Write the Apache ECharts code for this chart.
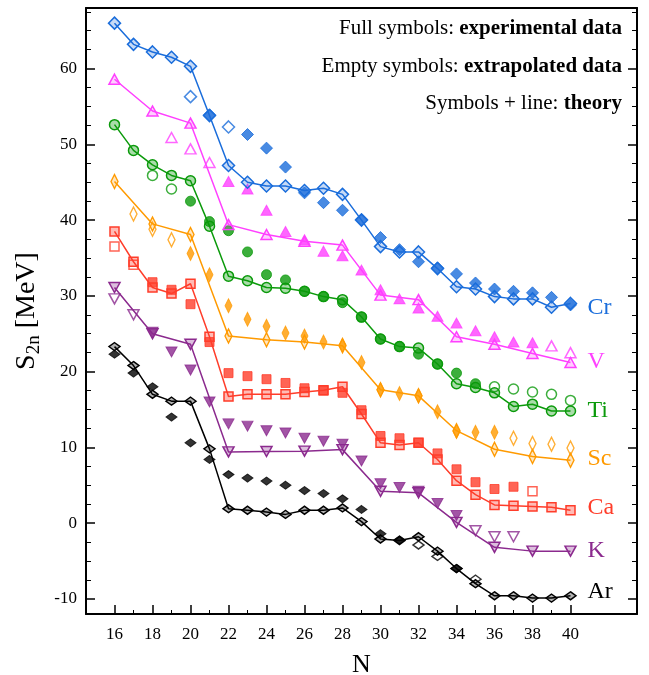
<!DOCTYPE html>
<html>
<head>
<meta charset="utf-8">
<script src="https://cdn.jsdelivr.net/npm/echarts@6/dist/echarts.min.js"></script>
<style>
  html, body { margin: 0; padding: 0; background: #fff; }
  #chart { width: 649px; height: 675px; }
</style>
</head>
<body>
<div id="chart"></div>
<script>
// Two-neutron separation energies S2n (MeV) versus neutron number N.
// Each isotopic chain: theory (symbols + line), experimental (full), extrapolated (empty).

const crTheory = [[16,66.0],[17,63.2],[18,62.2],[19,61.5],[20,60.3],[21,53.8],[22,47.2],[23,45.0],[24,44.5],[25,44.5],[26,43.9],[27,44.2],[28,43.4],[29,40.0],[30,36.5],[31,35.8],[32,35.8],[33,33.6],[34,31.2],[35,30.9],[36,29.9],[37,29.6],[38,29.6],[39,28.5],[40,29.0]];
const crExp = [[21,53.9],[23,51.3],[24,49.5],[25,47.0],[26,43.6],[27,42.3],[28,41.3],[29,40.1],[30,37.7],[31,36.1],[32,34.5],[33,33.7],[34,32.9],[35,31.7],[36,30.9],[37,30.6],[38,30.4],[39,29.8],[40,28.8]];
const crExtrap = [[20,56.3],[22,52.3]];

const vTheory = [[16,58.6],[18,54.4],[20,52.8],[22,39.4],[24,38.1],[26,37.2],[28,36.7],[30,30.1],[32,29.5],[34,24.6],[36,23.6],[38,22.4],[40,21.2]];
const vExp = [[22,45.1],[23,44.1],[24,41.3],[25,38.5],[26,37.4],[27,35.9],[28,35.3],[29,33.4],[30,30.8],[31,29.6],[32,28.4],[33,27.3],[34,26.4],[35,25.4],[36,24.6],[37,23.9],[38,23.8]];
const vExtrap = [[19,50.9],[20,49.4],[21,47.6],[39,23.4],[40,22.5]];

const tiTheory = [[16,52.6],[17,49.2],[18,47.3],[19,45.9],[20,45.2],[21,39.2],[22,32.6],[23,32.0],[24,31.1],[25,31.0],[26,30.6],[27,29.9],[28,29.5],[29,27.2],[30,24.3],[31,23.3],[32,23.1],[33,21.0],[34,18.4],[35,17.9],[36,17.2],[37,15.4],[38,15.7],[39,14.8],[40,14.8]];
const tiExp = [[20,42.5],[21,39.8],[22,38.6],[23,35.8],[24,32.8],[25,32.1],[26,30.6],[27,29.9],[28,29.1],[29,27.2],[30,24.3],[31,23.3],[32,22.3],[33,21.0],[34,19.8],[35,18.4]];
const tiExtrap = [[18,45.9],[19,44.1],[36,18.0],[37,17.7],[38,17.3],[39,17.0],[40,16.2]];

const scTheory = [[16,45.1],[18,39.5],[20,38.1],[22,24.7],[24,24.2],[26,23.9],[28,23.4],[30,17.6],[32,16.8],[34,12.2],[36,9.75],[38,8.8],[40,8.3]];
const scExp = [[20,35.6],[21,32.8],[22,28.7],[23,26.9],[24,26.0],[25,25.1],[26,24.7],[27,23.9],[28,23.5],[29,21.2],[30,17.6],[31,17.1],[32,16.8],[33,14.7],[34,12.1],[35,12.0],[36,12.0]];
const scExtrap = [[17,40.8],[18,38.8],[19,37.4],[37,11.2],[38,10.5],[39,10.4],[40,9.9]];

const caTheory = [[16,38.5],[17,34.5],[18,31.1],[19,30.3],[20,31.6],[21,24.6],[22,16.7],[23,17.0],[24,17.0],[25,17.0],[26,17.3],[27,17.55],[28,18.0],[29,14.4],[30,10.6],[31,10.3],[32,10.6],[33,8.4],[34,5.6],[35,3.75],[36,2.4],[37,2.3],[38,2.2],[39,2.1],[40,1.7]];
const caExp = [[18,31.8],[19,30.8],[20,28.9],[21,23.9],[22,19.8],[23,19.4],[24,19.0],[25,18.5],[26,17.8],[27,17.5],[28,17.2],[29,14.9],[30,11.5],[31,11.2],[32,10.6],[33,9.2],[34,7.1],[35,5.4],[36,4.5],[37,4.8]];
const caExtrap = [[16,36.5],[17,34.1],[38,4.2]];

const kTheory = [[16,31.1],[18,25.0],[20,23.6],[22,9.4],[24,9.45],[26,9.5],[28,9.7],[30,4.2],[32,4.0],[34,0.1],[36,-3.2],[38,-3.7],[40,-3.7]];
const kExp = [[18,25.2],[19,22.6],[20,20.2],[21,16.0],[22,13.1],[23,12.8],[24,12.2],[25,11.9],[26,11.2],[27,10.8],[28,10.4],[29,8.2],[30,5.2],[31,4.7],[32,4.2],[33,2.6],[34,1.0]];
const kExtrap = [[16,29.6],[17,27.5],[35,-1.0],[36,-1.8],[37,-1.8]];

const arTheory = [[16,23.3],[17,20.8],[18,17.0],[19,16.1],[20,16.1],[21,9.8],[22,1.9],[23,1.7],[24,1.45],[25,1.15],[26,1.7],[27,1.7],[28,2.0],[29,0.2],[30,-2.1],[31,-2.3],[32,-1.8],[33,-3.7],[34,-6.0],[35,-8.0],[36,-9.6],[37,-9.6],[38,-9.9],[39,-9.9],[40,-9.6]];
const arExp = [[16,22.3],[17,19.8],[18,18.0],[19,14.0],[20,10.6],[21,8.4],[22,6.4],[23,5.95],[24,5.55],[25,5.0],[26,4.3],[27,3.9],[28,3.2],[29,1.8],[30,-1.4],[31,-2.2],[34,-6.0]];
const arExtrap = [[32,-2.9],[33,-4.4],[35,-7.4]];

// Axis tick positions
const xMajorTicks = [16,18,20,22,24,26,28,30,32,34,36,38,40];
const xMinorTicks = [17,19,21,23,25,27,29,31,33,35,37,39];
const yMajorTicks = [-10,0,10,20,30,40,50,60];
const yMinorTicks = [-7.5,-5,-2.5,2.5,5,7.5,12.5,15,17.5,22.5,25,27.5,32.5,35,37.5,42.5,45,47.5,52.5,55,57.5,62.5,65,67.5];

const FONT = 'Liberation Serif';

// Chain styling: name, colour, symbol, size, rotation, end-label vertical offset
const chains = [
  { name: 'Cr', color: '#1a6ddb', tint: 'rgba(26,109,219,0.25)', symbol: 'diamond', size: [12, 12], rotate: 0, theory: crTheory, exp: crExp, extrap: crExtrap, dy: 4 },
  { name: 'V',  color: '#ff40ff', tint: 'rgba(255,64,255,0.25)', symbol: 'triangle', size: [11, 10], rotate: 0, theory: vTheory, exp: vExp, extrap: vExtrap, dy: -1 },
  { name: 'Ti', color: '#0b9a0b', tint: 'rgba(11,154,11,0.35)', symbol: 'circle', size: 10, rotate: 0, theory: tiTheory, exp: tiExp, extrap: tiExtrap, dy: 0 },
  { name: 'Sc', color: '#ff9a00', tint: 'rgba(255,154,0,0.25)', symbol: 'diamond', size: [7, 14], rotate: 0, theory: scTheory, exp: scExp, extrap: scExtrap, dy: -2 },
  { name: 'Ca', color: '#ff3d2a', tint: 'rgba(255,61,42,0.35)', symbol: 'rect', size: [9, 9], rotate: 0, theory: caTheory, exp: caExp, extrap: caExtrap, dy: -3 },
  { name: 'K',  color: '#8b2a8e', tint: 'rgba(139,42,142,0.3)', symbol: 'triangle', size: [11, 10], rotate: 180, theory: kTheory, exp: kExp, extrap: kExtrap, dy: 0 },
  { name: 'Ar', color: '#000000', tint: 'rgba(0,0,0,0.3)', symbol: 'diamond', size: [11, 8], rotate: 0, theory: arTheory, exp: arExp, extrap: arExtrap, dy: -4 }
];

const series = [];
chains.forEach(c => {
  series.push({
    name: c.name + ' exp', type: 'scatter', data: c.exp, z: 3,
    symbol: c.symbol, symbolSize: c.size, symbolRotate: c.rotate,
    itemStyle: { color: c.color, borderColor: c.color, borderWidth: 1 }
  });
  series.push({
    name: c.name + ' extrap', type: 'scatter', data: c.extrap, z: 3,
    symbol: c.symbol, symbolSize: c.size, symbolRotate: c.rotate,
    itemStyle: { color: '#ffffff', borderColor: c.color, borderWidth: 1.5 }
  });
  series.push({
    name: c.name, type: 'line', data: c.theory, z: 4,
    symbol: c.symbol, symbolSize: c.size, symbolRotate: c.rotate, showAllSymbol: true,
    lineStyle: { color: c.color, width: 1.5 },
    itemStyle: { color: c.tint, borderColor: c.color, borderWidth: 1.5 },
    endLabel: {
      show: true, formatter: c.name, color: c.color, fontFamily: FONT,
      fontSize: 24, distance: 17, offset: [0, c.dy]
    }
  });
});

const axisLineStyle = { color: '#000', width: 2 };

const chart = echarts.init(document.getElementById('chart'), null, { renderer: 'canvas' });
chart.setOption({
  animation: false,
  backgroundColor: '#ffffff',
  grid: { left: 86, right: 12, top: 8, bottom: 61, containLabel: false, outerBoundsMode: 'none' },
  xAxis: [
    {
      type: 'value', min: 14.5, max: 43.5, position: 'bottom',
      axisLine: { show: true, onZero: false, lineStyle: axisLineStyle },
      axisTick: { show: true, inside: true, length: 9, customValues: xMajorTicks, lineStyle: { color: '#000', width: 1.5 } },
      axisLabel: { customValues: xMajorTicks, fontFamily: FONT, fontSize: 17, color: '#000', margin: 12 },
      splitLine: { show: false },
      name: 'N', nameLocation: 'middle', nameGap: 38,
      nameTextStyle: { fontFamily: FONT, fontSize: 26, color: '#000' }
    },
    {
      type: 'value', min: 14.5, max: 43.5, position: 'bottom',
      axisLine: { show: false, onZero: false },
      axisTick: { show: true, inside: true, length: 4, customValues: xMinorTicks, lineStyle: { color: '#000', width: 1 } },
      axisLabel: { show: false }, splitLine: { show: false }
    },
    {
      type: 'value', min: 14.5, max: 43.5, position: 'top',
      axisLine: { show: true, onZero: false, lineStyle: axisLineStyle },
      axisTick: { show: false }, axisLabel: { show: false }, splitLine: { show: false }
    }
  ],
  yAxis: [
    {
      type: 'value', min: -12, max: 68, position: 'left',
      axisLine: { show: true, onZero: false, lineStyle: axisLineStyle },
      axisTick: { show: true, inside: true, length: 9, customValues: yMajorTicks, lineStyle: { color: '#000', width: 1.5 } },
      axisLabel: { customValues: yMajorTicks, fontFamily: FONT, fontSize: 17, color: '#000', margin: 9 },
      splitLine: { show: false },
      name: '{s|S}{sub|2n}{s| [MeV]}', nameLocation: 'middle', nameGap: 39, nameRotate: 90,
      nameTextStyle: {
        rich: {
          s: { fontFamily: FONT, fontSize: 28, color: '#000', lineHeight: 34, verticalAlign: 'middle' },
          sub: { fontFamily: FONT, fontSize: 19, color: '#000', lineHeight: 19, verticalAlign: 'bottom' }
        }
      }
    },
    {
      type: 'value', min: -12, max: 68, position: 'left',
      axisLine: { show: false, onZero: false },
      axisTick: { show: true, inside: true, length: 5, customValues: yMinorTicks, lineStyle: { color: '#000', width: 1 } },
      axisLabel: { show: false }, splitLine: { show: false }
    },
    {
      type: 'value', min: -12, max: 68, position: 'right',
      axisLine: { show: true, onZero: false, lineStyle: axisLineStyle },
      axisTick: { show: true, inside: true, length: 9, customValues: yMajorTicks, lineStyle: { color: '#000', width: 1.5 } },
      axisLabel: { show: false }, splitLine: { show: false }
    },
    {
      type: 'value', min: -12, max: 68, position: 'right',
      axisLine: { show: false, onZero: false },
      axisTick: { show: true, inside: true, length: 5, customValues: yMinorTicks, lineStyle: { color: '#000', width: 1 } },
      axisLabel: { show: false }, splitLine: { show: false }
    }
  ],
  graphic: [
    {
      type: 'text', right: 27, top: 18,
      style: {
        text: '{r|Full symbols: }{b|experimental data}',
        rich: {
          r: { fontFamily: FONT, fontSize: 21, fill: '#000' },
          b: { fontFamily: FONT, fontSize: 21, fontWeight: 'bold', fill: '#000' }
        }
      }
    },
    {
      type: 'text', right: 27, top: 56,
      style: {
        text: '{r|Empty symbols: }{b|extrapolated data}',
        rich: {
          r: { fontFamily: FONT, fontSize: 21, fill: '#000' },
          b: { fontFamily: FONT, fontSize: 21, fontWeight: 'bold', fill: '#000' }
        }
      }
    },
    {
      type: 'text', right: 27, top: 93,
      style: {
        text: '{r|Symbols + line: }{b|theory}',
        rich: {
          r: { fontFamily: FONT, fontSize: 21, fill: '#000' },
          b: { fontFamily: FONT, fontSize: 21, fontWeight: 'bold', fill: '#000' }
        }
      }
    }
  ],
  series: series
});
</script>
</body>
</html>
